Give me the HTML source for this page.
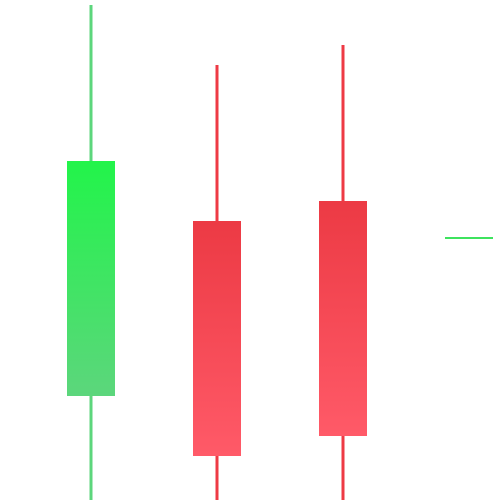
<!DOCTYPE html>
<html><head><meta charset="utf-8"><style>
html,body{margin:0;padding:0;background:#fff;width:500px;height:500px;overflow:hidden}
</style></head><body>
<svg id="chart" width="500" height="500" viewBox="0 0 500 500" xmlns="http://www.w3.org/2000/svg">
<defs>
<linearGradient id="gUp" x1="0" y1="0" x2="0" y2="1"><stop offset="0" stop-color="#22f44a"/><stop offset="1" stop-color="#5cd67c"/></linearGradient>
<linearGradient id="gDown" x1="0" y1="0" x2="0" y2="1"><stop offset="0" stop-color="#ec3a44"/><stop offset="1" stop-color="#ff5a68"/></linearGradient>
</defs>
</svg>
<script>
const categories = ["c1","c2","c3","c4"];
const openVals  = [104, 279, 299, 262];
const closeVals = [339, 44, 64, 262];
const highVals  = [495, 435, 455, 262];
const lowVals   = [0, 0, 0, 262];

const svg = document.getElementById('chart');
const NS = 'http://www.w3.org/2000/svg';
function yScale(v){ return 500 - v; }
function xScale(i){ return 91 + i * 126; }
const bodyW = 48;
categories.forEach((c,i)=>{
  const up = closeVals[i] >= openVals[i];
  const col = up ? '#3ee35e' : '#ee3a44';
  const g = document.createElementNS(NS,'g');
  
  
  const cx = xScale(i);
  if (highVals[i] !== lowVals[i]) {
    const w = document.createElementNS(NS,'line');
    
    
    w.setAttribute('x1', cx); w.setAttribute('x2', cx);
    w.setAttribute('y1', yScale(highVals[i])); w.setAttribute('y2', yScale(lowVals[i]));
    w.setAttribute('stroke', up ? '#5cd67c' : '#ee3a44');
    w.setAttribute('stroke-width', 3);
    g.appendChild(w);
  }
  const top = yScale(Math.max(openVals[i], closeVals[i]));
  const bot = yScale(Math.min(openVals[i], closeVals[i]));
  if (bot - top < 1) {
    const l = document.createElementNS(NS,'line');
    
    
    l.setAttribute('x1', cx - bodyW/2); l.setAttribute('x2', cx + bodyW/2);
    l.setAttribute('y1', top); l.setAttribute('y2', top);
    l.setAttribute('stroke', '#3ee35e'); l.setAttribute('stroke-width', 2);
    g.appendChild(l);
  } else {
    const r = document.createElementNS(NS,'rect');
    
    
    r.setAttribute('x', cx - bodyW/2); r.setAttribute('width', bodyW);
    r.setAttribute('y', top); r.setAttribute('height', bot - top);
    r.setAttribute('fill', up ? 'url(#gUp)' : 'url(#gDown)');
    g.appendChild(r);
  }
  svg.appendChild(g);
});
</script>
</body></html>
